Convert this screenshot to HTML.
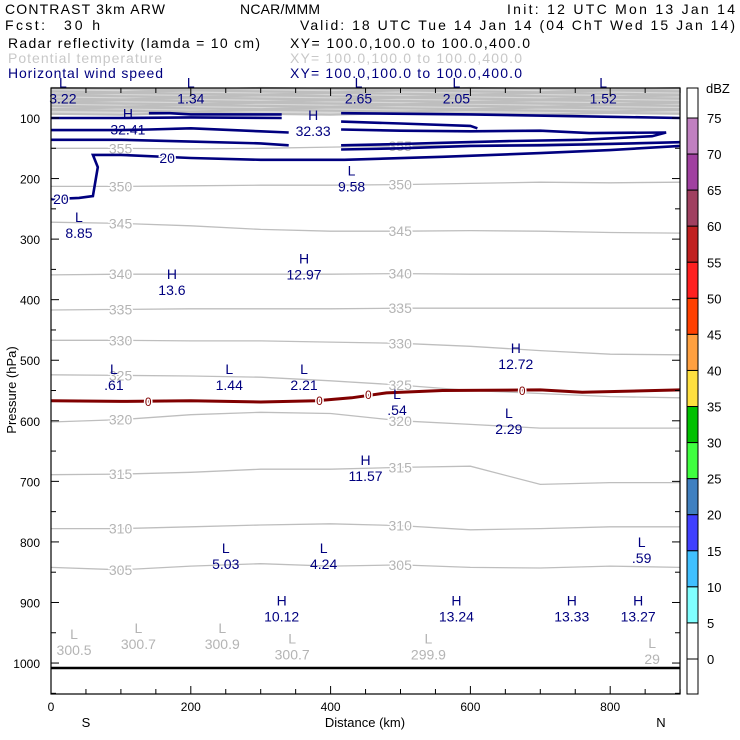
<!DOCTYPE html>
<html><head><meta charset="utf-8"><style>
body{margin:0;background:#fff}
svg{display:block;font-family:"Liberation Sans",sans-serif}
.hd{font-size:14px}
</style></head><body>
<svg id="c" width="740" height="740" viewBox="0 0 740 740">
<g class="hd">
<text x="5" y="14" textLength="160">CONTRAST  3km ARW</text>
<text x="240" y="14" textLength="80">NCAR/MMM</text>
<text x="507" y="14" textLength="228">Init: 12 UTC Mon 13 Jan 14</text>
<text x="5" y="30" textLength="40">Fcst:</text>
<text x="64" y="30" textLength="36">30 h</text>
<text x="300" y="30" textLength="435">Valid: 18 UTC Tue 14 Jan 14 (04 ChT Wed 15 Jan 14)</text>
<text x="8" y="48" textLength="252">Radar reflectivity (lamda = 10 cm)</text>
<text x="290" y="48" textLength="240">XY= 100.0,100.0 to 100.0,400.0</text>
<text x="8" y="63" textLength="154" fill="#c8c8c8">Potential temperature</text>
<text x="290" y="63" textLength="232" fill="#c8c8c8">XY= 100.0,100.0 to 100.0,400.0</text>
<text x="8" y="78" textLength="155" fill="#00007f">Horizontal wind speed</text>
<text x="290" y="78" textLength="232" fill="#00007f">XY= 100.0,100.0 to 100.0,400.0</text>
</g>
<g id="plot"></g>
<g id="cbar"></g>
</svg>
<script>
const NS='http://www.w3.org/2000/svg';
const dist=[0,100,200,300,400,500,600,700,800,900];
const thetaLevels=[355,350,345,340,335,330,325,320,315,310,305];
const thetaP=[
[150,150,151,150,148,146,145,143,141,140],
[213,213,212,211,211,210,208,206,207,206],
[272,274,278,284,287,287,286,287,289,290],
[359,358,358,358,358,357,358,358,358,358],
[417,416,415,415,415,414,414,414,414,414],
[467,467,468,468,470,472,477,484,490,491],
[524,525,526,528,534,541,550,555,560,562],
[602,598,590,586,588,600,606,612,612,612],
[689,688,685,680,680,677,675,705,702,702],
[778,778,775,772,770,773,780,778,775,775],
[842,846,840,836,840,838,842,843,840,842]];
const stratP=[52,56,60,64,68,72,76,80,84,88,93];
const windP=[
[[140,92],[170,92],[200,94],[330,94]],
[[0,100],[100,100],[200,99],[330,100]],
[[0,120],[100,120],[140,119],[200,117],[300,122],[340,124]],
[[0,136],[100,136],[200,139],[300,142],[340,145]],
[[415,92],[600,94],[800,98],[900,100]],
[[415,106],[500,109],[600,113],[610,117]],
[[415,119],[500,121],[600,122],[700,121],[770,125],[880,124],[860,130],[760,136],[660,138],[560,141],[500,143],[415,145]],
[[415,152],[500,150],[600,146],[700,145],[800,143],[900,140]],
[[0,234],[40,232],[60,229],[67,181],[60,161],[100,161],[200,166],[300,169],[420,169],[560,164],[700,158],[800,153],[900,146]]];
const dbz0=[[0,567],[100,568],[200,567],[300,569],[380,567],[430,562],[480,554],[560,550],[700,549],[760,553],[900,549]];
const extrema=[
['L','3.22',17,50,'#00007f'],['L','1.34',200,50,'#00007f'],['L','2.65',440,50,'#00007f'],['L','2.05',580,50,'#00007f'],['L','1.52',790,50,'#00007f'],
['H','32.41',110,101,'#00007f'],['H','32.33',375,103,'#00007f'],
['L','9.58',430,195,'#00007f'],['L','8.85',40,272,'#00007f'],['H','12.97',362,340,'#00007f'],['H','13.6',173,366,'#00007f'],
['H','12.72',665,488,'#00007f'],['L','.61',90,523,'#00007f'],['L','1.44',255,523,'#00007f'],['L','2.21',362,523,'#00007f'],['L','.54',495,564,'#00007f'],['L','2.29',655,595,'#00007f'],
['H','11.57',450,673,'#00007f'],['L','.59',845,808,'#00007f'],['L','5.03',250,818,'#00007f'],['L','4.24',390,818,'#00007f'],
['H','10.12',330,905,'#00007f'],['H','13.24',580,905,'#00007f'],['H','13.33',745,905,'#00007f'],['H','13.27',840,905,'#00007f'],
['L','300.5',33,960,'#b4b4b4'],['L','300.7',125,950,'#b4b4b4'],['L','300.9',245,950,'#b4b4b4'],['L','300.7',345,968,'#b4b4b4'],['L','299.9',540,968,'#b4b4b4'],['L','29',860,975,'#b4b4b4']];
const xTicks=[0,200,400,600,800];
const yTicks=[100,200,300,400,500,600,700,800,900,1000];
const cbLevels=[75,70,65,60,55,50,45,40,35,30,25,20,15,10,5,0];
const cbColors=['#c080c0','#a040a0','#a04060','#c02020','#ff2020','#ff4000','#ffa040','#ffe040','#00c000','#40ff40','#4080c0','#4040ff','#40c0ff','#80ffff','#ffffff'];

const X0=51,X1=680,Y0=88,Y1=694;
const sx=d=>X0+d*0.699;
const sy=p=>118+(p-100)*0.6056;
const plot=document.getElementById('plot'),cb=document.getElementById('cbar');
function mk(tag,at,par){const e=document.createElementNS(NS,tag);for(const k in at)e.setAttribute(k,at[k]);par.appendChild(e);return e;}
function pl(pts){return pts.map(q=>q[0].toFixed(1)+','+q[1].toFixed(1)).join(' ');}

mk('rect',{x:X0,y:Y0,width:X1-X0,height:sy(stratP[stratP.length-1])-Y0,fill:'#bebebe',opacity:0.6},plot);
stratP.forEach((p,i)=>{
 const pts=dist.map((d,j)=>[sx(d),sy(p+((j+i)%3-1)*1.5)]);
 const e=mk('polyline',{points:pl(pts),fill:'none',stroke:'#bebebe','stroke-width':2.2},plot);
 
 
});
thetaLevels.forEach((lv,i)=>{
 const pts=dist.map((d,j)=>[sx(d),sy(thetaP[i][j])]);
 const e=mk('polyline',{points:pl(pts),fill:'none',stroke:'#bebebe','stroke-width':1.3},plot);
 
 
 [1,5].forEach(j=>{
  const t=mk('text',{x:sx(dist[j])-12,y:sy(thetaP[i][j])+5,fill:'#b4b4b4','font-size':14,stroke:'#fff','stroke-width':3,'paint-order':'stroke'},plot);
  t.textContent=lv;
  
  
 });
});
windP.forEach(seg=>{
 const e=mk('polyline',{points:pl(seg.map(q=>[sx(q[0]),sy(q[1])])),fill:'none',stroke:'#00007f','stroke-width':2.6},plot);
 
 
});
[['20',155,166],['20',3,234]].forEach(a=>{
 const t=mk('text',{x:sx(a[1]),y:sy(a[2])+5,fill:'#00007f','font-size':14,stroke:'#fff','stroke-width':3,'paint-order':'stroke'},plot);
 t.textContent=a[0];
 
 
});
const dz=mk('polyline',{points:pl(dbz0.map(q=>[sx(q[0]),sy(q[1])])),fill:'none',stroke:'#800000','stroke-width':3},plot);


[[140,567],[385,566],[455,556],[675,549]].forEach(q=>{
 const t=mk('text',{x:sx(q[0])-4,y:sy(q[1])+5,fill:'#800000','font-size':12,stroke:'#fff','stroke-width':3,'paint-order':'stroke'},plot);
 t.textContent='0';
 
 
});
extrema.forEach(e=>{
 const g=mk('g',{},plot);
 
 
 const x=sx(e[2]),y=sy(e[3]);
 mk('text',{x:x,y:y,'text-anchor':'middle',fill:e[4],'font-size':14},g).textContent=e[0];
 mk('text',{x:x,y:y+16,'text-anchor':'middle',fill:e[4],'font-size':14},g).textContent=e[1];
});
const sf=mk('line',{x1:X0,x2:X1,y1:668,y2:668,stroke:'#000','stroke-width':2.5},plot);


mk('rect',{x:X0,y:Y0,width:X1-X0,height:Y1-Y0,fill:'none',stroke:'#000','stroke-width':1.2},plot);
for(let d=0;d<=900;d+=50){const L=d%200==0?8:5;
 mk('line',{x1:sx(d),x2:sx(d),y1:Y0,y2:Y0+L,stroke:'#000'},plot);
 mk('line',{x1:sx(d),x2:sx(d),y1:Y1,y2:Y1-L,stroke:'#000'},plot);}
for(let p=100;p<=1050;p+=50){const L=p%100==0?8:5;
 mk('line',{x1:X0,x2:X0+L,y1:sy(p),y2:sy(p),stroke:'#000'},plot);
 mk('line',{x1:X1,x2:X1-L,y1:sy(p),y2:sy(p),stroke:'#000'},plot);}
xTicks.forEach(d=>{const t=mk('text',{x:sx(d),y:711,'text-anchor':'middle','font-size':12},plot);t.textContent=d;
 
 });
yTicks.forEach(p=>{const t=mk('text',{x:40,y:sy(p)+5,'text-anchor':'end','font-size':12},plot);t.textContent=p;
 
 });
const xt=mk('text',{x:365,y:727,'text-anchor':'middle','font-size':13},plot);xt.textContent='Distance (km)';


[['S',86],['N',661]].forEach(a=>{const t=mk('text',{x:a[1],y:727,'text-anchor':'middle','font-size':13},plot);t.textContent=a[0];
 
 });
const yt=mk('text',{x:0,y:0,'text-anchor':'middle','font-size':13,transform:'translate(16,390) rotate(-90)'},plot);yt.textContent='Pressure (hPa)';


const cy=v=>118+(75-v)*(541/75);
cbColors.forEach((c,i)=>{const r=mk('rect',{x:687,y:cy(cbLevels[i]),width:11,height:cy(cbLevels[i+1]??-5)-cy(cbLevels[i]),fill:c,stroke:'#000','stroke-width':1},cb);
 
 });
mk('rect',{x:687,y:88,width:11,height:606,fill:'none',stroke:'#000'},cb);
cbLevels.forEach(v=>{const t=mk('text',{x:707,y:cy(v)+5,'font-size':13},cb);t.textContent=v;
 
 });
const u=mk('text',{x:706,y:93,'font-size':13},cb);u.textContent='dBZ';


</script>
</body></html>
